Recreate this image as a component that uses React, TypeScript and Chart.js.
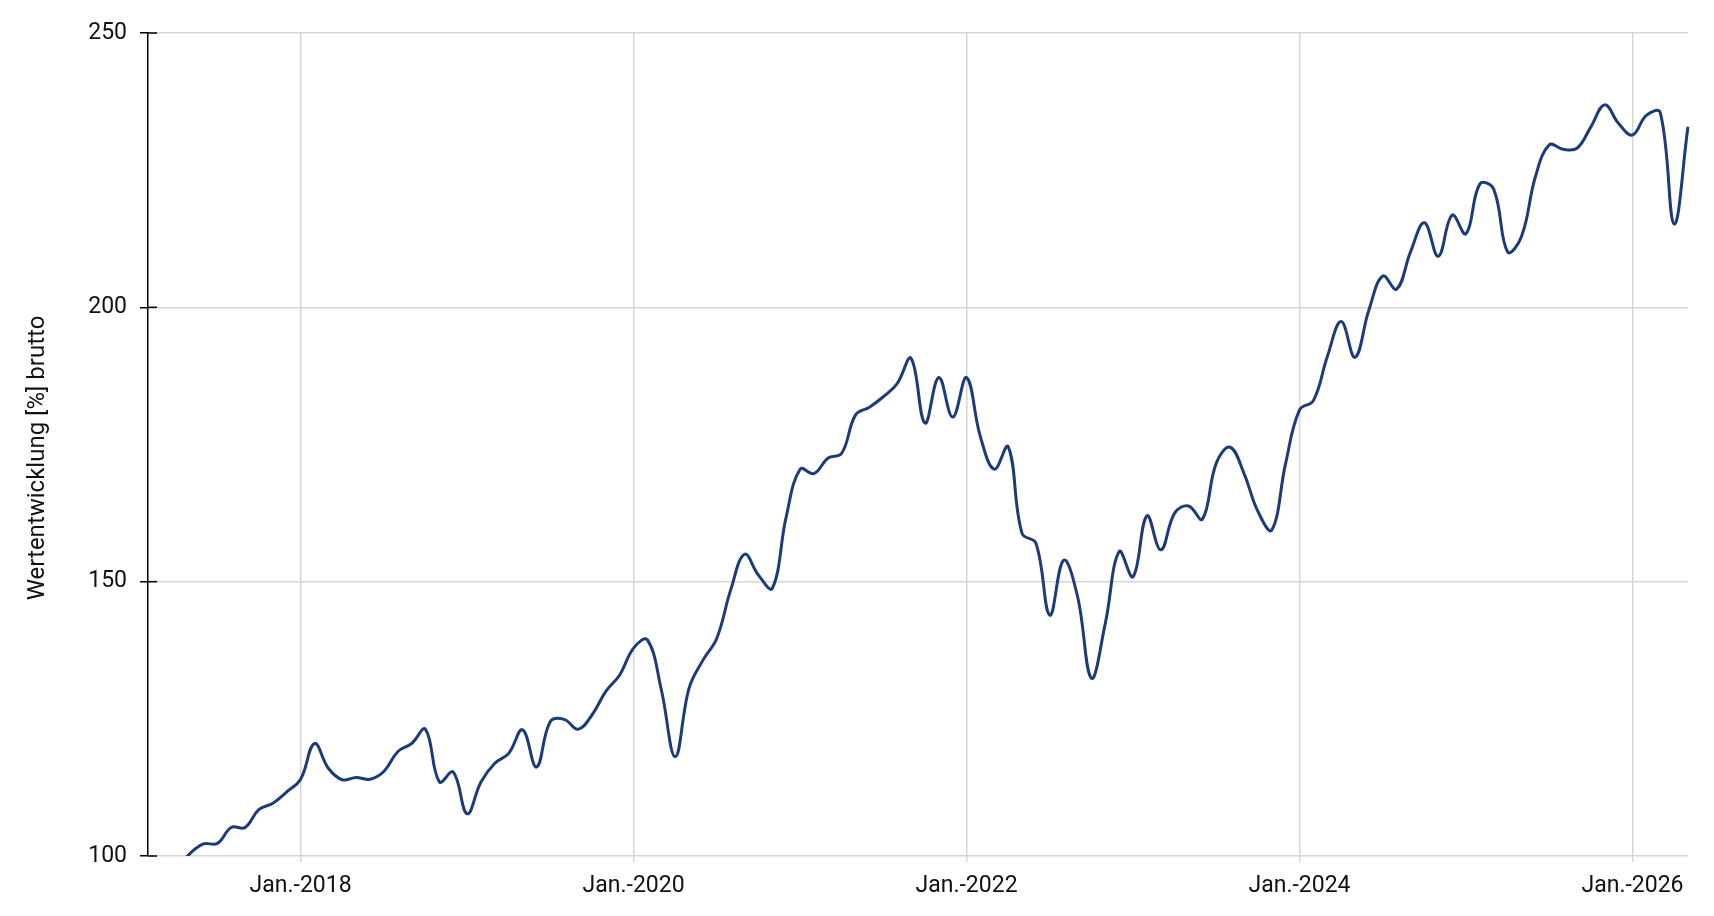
import React, { useEffect, useRef } from 'react';
import { Chart, registerables } from 'chart.js';

Chart.register(...registerables);

// monthly values, Feb 2017 .. May 2026
const startYear = 2017;
const startMonth = 1; // Feb (0-based)
const monthNames = ['Jan.', 'Feb.', 'März', 'Apr.', 'Mai', 'Juni', 'Juli', 'Aug.', 'Sep.', 'Okt.', 'Nov.', 'Dez.'];

const values = [
  99.3, 98.2, 97.6, 100.4, 102.2, 102.3, 105.2, 105.2, 108.5, 109.6, 111.7,
  114.0, 120.5, 116.0, 113.9, 114.3, 114.0, 115.4, 119.0, 120.5, 123.1, 113.5, 115.3, 107.7,
  113.5, 116.9, 118.7, 123.0, 116.2, 124.5, 124.9, 123.1, 125.7, 130.0, 133.0, 137.9,
  139.4, 130.3, 118.1, 130.6, 135.7, 139.7, 148.5, 155.0, 151.2, 148.8, 161.8, 170.5,
  169.7, 172.5, 173.4, 180.4, 181.8, 183.7, 186.1, 190.7, 178.9, 187.2, 180.0, 187.2,
  176.4, 170.5, 174.6, 158.8, 157.0, 143.9, 153.9, 147.3, 132.4, 142.4, 155.5, 150.9,
  162.0, 155.8, 162.5, 163.8, 161.4, 171.6, 174.5, 169.7, 162.8, 159.4, 171.6, 181.3,
  183.0, 191.0, 197.4, 190.9, 199.5, 205.7, 203.3, 210.1, 215.4, 209.3, 216.8, 213.4,
  222.5, 221.5, 210.1, 212.9, 223.8, 229.6, 228.8, 229.0, 232.9, 236.9, 233.5, 231.4,
  235.0, 235.5, 215.2, 232.9,
];

const monthLabels = values.map((_, i) => {
  const m = (startMonth + i) % 12;
  const y = startYear + Math.floor((startMonth + i) / 12);
  return `${monthNames[m]}-${y}`;
});

const xTickLabels = ['Jan.-2018', 'Jan.-2020', 'Jan.-2022', 'Jan.-2024', 'Jan.-2026'];
const yTicks = [100, 150, 200, 250];
const yTitle = 'Wertentwicklung [%] brutto';

const FONT = 'Roboto, "Noto Sans", sans-serif';
const GRID = '#d6d6d6';

const isShown = (i: number) => xTickLabels.includes(monthLabels[i]);

// y tick marks inside the axis and the rotated axis title centred on the canvas
const axisExtras = {
  id: 'axisExtras',
  beforeDatasetsDraw(chart: any) {
    const { ctx, chartArea, scales } = chart;
    ctx.save();
    ctx.strokeStyle = '#000';
    ctx.lineWidth = 1.5;
    yTicks.forEach((v) => {
      const py = scales.y.getPixelForValue(v);
      ctx.beginPath();
      ctx.moveTo(chartArea.left, py);
      ctx.lineTo(chartArea.left + 9, py);
      ctx.stroke();
    });
    ctx.restore();
  },
  afterDraw(chart: any) {
    const { ctx } = chart;
    ctx.save();
    ctx.translate(38, chart.height / 2);
    ctx.rotate(-Math.PI / 2);
    ctx.font = `24px ${FONT}`;
    ctx.fillStyle = '#111';
    ctx.textAlign = 'center';
    ctx.textBaseline = 'middle';
    ctx.fillText(yTitle, 0, 0);
    ctx.restore();
  },
};

const App: React.FC = () => {
  const canvasRef = useRef<HTMLCanvasElement | null>(null);
  const chartRef = useRef<Chart | null>(null);

  useEffect(() => {
    if (!canvasRef.current) return;
    const ctx = canvasRef.current.getContext('2d');
    if (!ctx) return;

    if (chartRef.current) {
      chartRef.current.destroy();
      chartRef.current = null;
    }

    chartRef.current = new Chart(ctx, {
      type: 'line',
      data: {
        labels: monthLabels,
        datasets: [
          {
            data: values,
            borderColor: '#1c3b78',
            borderWidth: 3,
            pointRadius: 0,
            tension: 0.4,
            fill: false,
          },
        ],
      },
      options: {
        animation: false,
        responsive: true,
        maintainAspectRatio: false,
        layout: { padding: { left: 0, right: 26, top: 33, bottom: 0 } },
        plugins: {
          legend: { display: false },
          tooltip: { enabled: false },
        },
        scales: {
          x: {
            type: 'category',
            offset: false,
            border: { display: false },
            grid: {
              color: (c: any) => (isShown(c.index) ? GRID : 'transparent'),
              tickColor: (c: any) => (isShown(c.index) ? GRID : 'transparent'),
              lineWidth: 1.5,
              tickLength: 6,
            },
            ticks: {
              autoSkip: false,
              maxRotation: 0,
              minRotation: 0,
              padding: 10,
              color: '#111',
              font: { family: FONT, size: 23 },
              callback: (_v: any, i: number) => (isShown(i) ? monthLabels[i] : ''),
            },
            afterFit: (s: any) => {
              s.height = 60;
            },
          },
          y: {
            min: 100,
            max: 250,
            afterBuildTicks: (s: any) => {
              s.ticks = yTicks.map((v) => ({ value: v }));
            },
            border: { color: '#000', width: 1.5 },
            grid: {
              color: GRID,
              lineWidth: 1.5,
              tickColor: '#000',
              tickLength: 8,
            },
            ticks: {
              padding: 13,
              color: '#111',
              font: { family: FONT, size: 23 },
            },
            afterFit: (s: any) => {
              s.width = 148;
            },
          },
        },
      },
      plugins: [axisExtras],
    });

    return () => {
      if (chartRef.current) {
        chartRef.current.destroy();
        chartRef.current = null;
      }
    };
  }, []);

  return (
    <div style={{ position: 'fixed', left: 0, top: 0, width: 1714, height: 916, background: '#fff' }}>
      <canvas ref={canvasRef}></canvas>
    </div>
  );
};

export default App;
